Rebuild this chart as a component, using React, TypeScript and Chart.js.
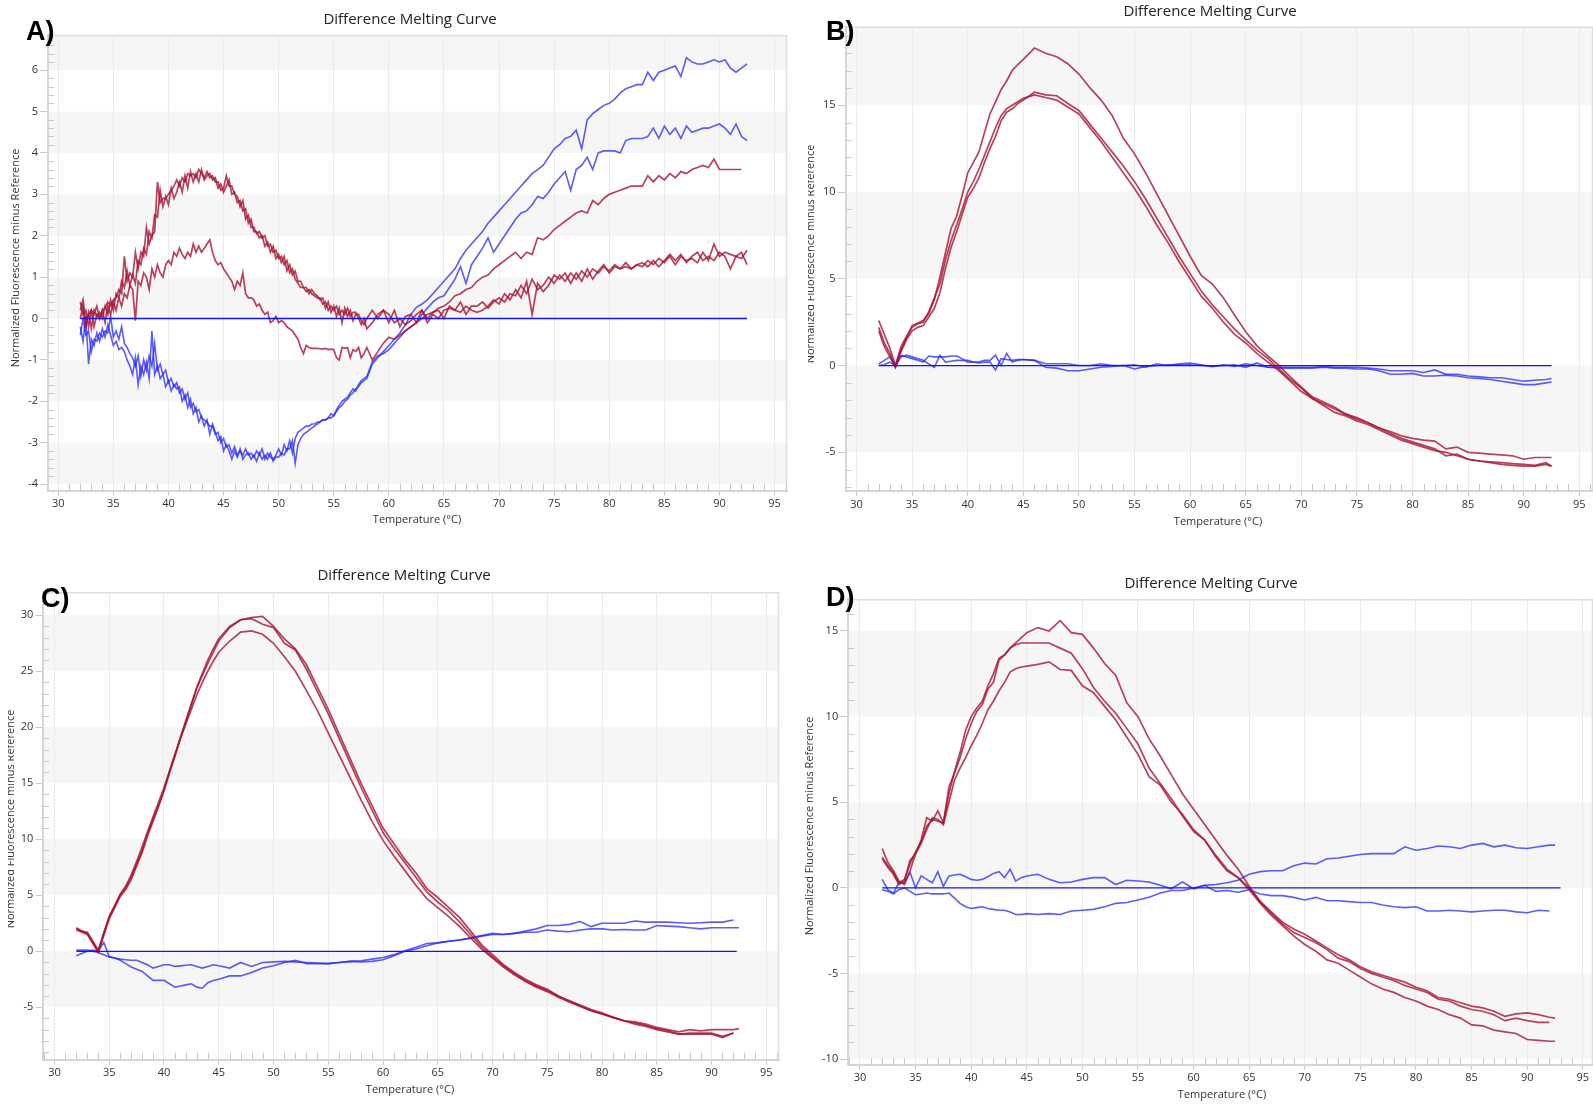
import React, { useEffect, useRef } from "react";
import { Chart, registerables } from "chart.js";
Chart.register(...registerables);

// ---------- tick labels ----------
const xTicks = [30, 35, 40, 45, 50, 55, 60, 65, 70, 75, 80, 85, 90, 95];
const yTicksA = [-4, -3, -2, -1, 0, 1, 2, 3, 4, 5, 6];
const yTicksB = [-5, 0, 5, 10, 15];
const yTicksC = [-5, 0, 5, 10, 15, 20, 25, 30];
const yTicksD = [-10, -5, 0, 5, 10, 15];

// ---------- panel A (temperature sampling + series) ----------
const tempsA = [
  32, 32.25, 32.5, 32.75, 33, 33.25, 33.5, 33.75, 34, 34.25, 34.5, 34.75,
  35, 35.25, 35.5, 35.75, 36, 36.25, 36.5, 36.75, 37, 37.25, 37.5, 37.75,
  38, 38.25, 38.5, 38.75, 39, 39.25, 39.5, 39.75, 40, 40.25, 40.5, 40.75,
  41, 41.25, 41.5, 41.75, 42, 42.25, 42.5, 42.75, 43, 43.25, 43.5, 43.75,
  44, 44.25, 44.5, 44.75, 45, 45.25, 45.5, 45.75, 46, 46.25, 46.5, 46.75,
  47, 47.25, 47.5, 47.75, 48, 48.25, 48.5, 48.75, 49, 49.25, 49.5, 49.75,
  50, 50.25, 50.5, 50.75, 51, 51.25, 51.5, 51.75, 52, 52.25, 52.5, 52.75,
  53, 53.25, 53.5, 53.75, 54, 54.25, 54.5, 54.75, 55, 55.25, 55.5, 55.75,
  56, 56.25, 56.5, 56.75, 57, 57.25, 57.5, 57.75,
  58, 58.5,
  59, 59.5, 60, 60.5, 61, 61.5, 62, 62.5, 63, 63.5,
  64, 64.5, 65, 65.5, 66, 66.5, 67, 67.5, 68, 68.5,
  69, 69.5, 70, 70.5, 71, 71.5, 72, 72.5, 73, 73.5,
  74, 74.5, 75, 75.5, 76, 76.5, 77, 77.5, 78, 78.5,
  79, 79.5, 80, 80.5, 81, 81.5, 82, 82.5, 83, 83.5,
  84, 84.5, 85, 85.5, 86, 86.5, 87, 87.5, 88, 88.5,
  89, 89.5, 90, 90.5, 91, 91.5, 92, 92.5,
];

const redA1 = [
  0.4, 0.1, 0.2, -0.2, 0.2, 0.1, 0.3, 0.0, 0.2, 0.25, 0.4, 0.3,
  0.45, 0.5, 0.7, 0.6, 1.5, 0.9, 1.1, 1.0, 1.6, 1.2, 1.6, 1.5,
  2.2, 1.8, 2.0, 2.1, 3.3, 2.8, 2.9, 2.9, 3.0, 3.1, 3.2, 3.35,
  3.2, 3.4, 3.3, 3.5, 3.45, 3.5, 3.4, 3.6, 3.5, 3.4, 3.55, 3.4,
  3.45, 3.3, 3.3, 3.1, 3.15, 3.45, 3.2, 3.2, 3.0, 2.95, 2.7, 2.85,
  2.4, 2.5, 2.2, 2.2, 2.05, 2.1, 1.95, 2.0, 1.75, 1.8, 1.6, 1.65,
  1.45, 1.5, 1.3, 1.4, 1.1, 1.2, 0.95, 0.85, 0.75, 0.75, 0.65, 0.7,
  0.6, 0.55, 0.5, 0.5, 0.35, 0.4, 0.2, 0.3, 0.2, 0.3, 0.1, 0.2,
  0.1, 0.25, 0.05, 0.15, 0.15, 0.0, -0.15, 0.0,
  -0.25, -0.1,
  0.1, 0.2, 0.1, -0.1, 0.0, -0.15, -0.05, 0.1, 0.2, -0.1,
  0.1, 0.0, 0.2, 0.25, 0.2, 0.4, 0.1, 0.3, 0.3, 0.4,
  0.25, 0.4, 0.5, 0.4, 0.6, 0.55, 0.8, 0.6, 0.95, 0.7,
  0.8, 1.0, 0.85, 1.05, 0.9, 1.1, 0.95, 1.15, 1.0, 1.2,
  1.1, 1.25, 1.15, 1.3, 1.2, 1.25, 1.2, 1.3, 1.25, 1.4,
  1.3, 1.45, 1.35, 1.5, 1.3, 1.5, 1.4, 1.45, 1.35, 1.6,
  1.4, 1.8, 1.5, 1.6, 1.55, 1.5, 1.6, 1.3,
];

const redA2 = [
  0.2, 0.45, -0.1, 0.15, -0.25, 0.2, 0.05, 0.15, 0.0, 0.3, 0.1, 0.45,
  0.2, 0.6, 0.5, 0.9, 0.75, 1.15, 0.8, 1.05, 0.85, 1.4, 1.3, 1.7,
  1.55, 2.1, 1.95, 2.5, 2.45, 3.1, 2.7, 2.95, 2.75, 3.15, 2.9, 3.05,
  3.3, 3.05, 3.45, 3.15, 3.55, 3.3, 3.5, 3.3, 3.6, 3.35, 3.45, 3.5,
  3.35, 3.4, 3.15, 3.25, 3.05, 3.2, 3.35, 3.0, 3.05, 2.8, 2.85, 2.6,
  2.65, 2.3, 2.4, 2.1, 2.1, 1.95, 2.0, 1.75, 1.85, 1.6, 1.75, 1.45,
  1.55, 1.35, 1.5, 1.15, 1.3, 1.05, 1.15, 0.9, 0.9, 0.75, 0.75, 0.6,
  0.7, 0.6, 0.55, 0.45, 0.5, 0.25, 0.4, 0.15, 0.3, 0.05, 0.25, -0.1,
  0.25, 0.05, 0.2, -0.05, 0.1, 0.1, -0.05, -0.15,
  0.0, 0.2,
  0.0, 0.2, -0.1, 0.2, -0.2, 0.05, 0.1, -0.1, 0.2, 0.0,
  0.15, 0.2, 0.0, 0.3, 0.2, 0.15, 0.3, 0.2, 0.15, 0.2,
  0.3, 0.45, 0.35, 0.6, 0.45, 0.7, 0.5, 0.9, 0.1, 0.85,
  0.65, 0.8, 1.05, 0.95, 1.1, 0.85, 1.1, 0.9, 1.2, 0.95,
  1.15, 1.3, 1.1, 1.25, 1.2, 1.35, 1.2, 1.3, 1.35, 1.25,
  1.4, 1.25, 1.4, 1.55, 1.4, 1.55, 1.35, 1.5, 1.6, 1.4,
  1.5, 1.4, 1.6, 1.5, 1.2, 1.5, 1.45, 1.65,
];

const redA3 = [
  0.0, 0.3, -0.2, 0.1, 0.2, -0.2, 0.1, 0.0, 0.2, -0.1, 0.3, 0.1,
  0.4, 0.2, 0.5, 0.3, 0.6, 0.5, 0.8, 0.7, -0.05, 0.9, 0.8, 1.1,
  1.0, 0.7, 1.2, 1.0, 1.3, 1.1, 1.0, 1.3, 1.4, 1.3, 1.6, 1.5,
  1.7, 1.55, 1.45, 1.6, 1.5, 1.8, 1.6, 1.75, 1.6, 1.7, 1.8, 1.9,
  1.6, 1.4, 1.3, 1.35, 1.2, 1.1, 1.0, 0.9, 0.7, 0.9, 0.8, 1.1,
  0.6, 0.5, 0.5, 0.45, 0.3, 0.35, 0.2, 0.1, 0.15, -0.1, -0.05, 0.05,
  -0.1, -0.05, -0.1, -0.2, -0.25, -0.3, -0.4, -0.5, -0.7, -0.85, -0.65, -0.7,
  -0.72, -0.72, -0.72, -0.73, -0.74, -0.72, -0.75, -0.74, -0.75, -0.95, -1.0, -0.7,
  -0.72, -0.7, -0.95, -0.75, -0.8, -0.7, -0.95, -0.85,
  -0.7, -1.0,
  -0.8, -0.6, -0.45, -0.5, -0.4, -0.3, -0.2, -0.1, 0.0, 0.1,
  0.15, 0.25, 0.3, 0.4, 0.55, 0.6, 0.7, 0.75, 0.9, 1.0,
  1.05, 1.2, 1.3, 1.4, 1.5, 1.6, 1.45, 1.6, 1.55, 1.95,
  1.9, 2.0, 2.15, 2.25, 2.35, 2.45, 2.55, 2.6, 2.55, 2.85,
  2.75, 2.9, 3.0, 3.05, 3.1, 3.15, 3.2, 3.2, 3.2, 3.45,
  3.3, 3.45, 3.35, 3.5, 3.4, 3.55, 3.5, 3.6, 3.65, 3.7,
  3.65, 3.85, 3.6, 3.6, 3.6, 3.6, 3.6, null,
];

const blueA1 = [
  -0.4, 0.0, -0.4, -0.3, -0.8, -0.5, -0.55, -0.35, -0.45, -0.3, -0.35, 0.05,
  -0.45, -0.3, -0.5, -0.2, -0.6, -0.7, -0.85, -0.95, -1.15, -0.9, -1.4, -1.0,
  -1.25, -0.9, -1.15, -0.6, -1.25, -1.1, -1.35, -1.25, -1.55, -1.45, -1.65, -1.55,
  -1.8, -1.7, -1.95, -1.8, -2.15, -2.05, -2.25, -2.2, -2.4, -2.45, -2.5, -2.6,
  -2.6, -2.8, -2.75, -3.0, -2.9, -3.1, -3.05, -3.25, -3.1, -3.3, -3.2, -3.3,
  -3.15, -3.3, -3.25, -3.35, -3.2, -3.3, -3.15, -3.4, -3.25, -3.35, -3.4, -3.3,
  -3.15, -3.3, -3.05, -3.2, -2.95, -3.25, -2.9, -2.75, -2.7, -2.65, -2.6, -2.6,
  -2.55, -2.55, -2.5, -2.5, -2.45, -2.45, -2.4, -2.4, -2.35, -2.25, -2.15, -2.1,
  -2.0, -1.95, -1.85, -1.8, -1.7, -1.65, -1.55, -1.5,
  -1.45, -1.1,
  -0.95, -0.8, -0.65, -0.5, -0.35, -0.15, 0.1, 0.27, 0.35, 0.45,
  0.6, 0.75, 0.9, 1.05, 1.2, 1.45, 1.65, 1.8, 1.95, 2.1,
  2.3, 2.45, 2.6, 2.75, 2.9, 3.05, 3.2, 3.35, 3.5, 3.6,
  3.7, 3.9, 4.1, 4.2, 4.35, 4.4, 4.55, 4.1, 4.8, 4.95,
  5.05, 5.15, 5.2, 5.3, 5.45, 5.55, 5.6, 5.65, 5.65, 5.95,
  5.75, 5.95, 6.0, 6.05, 6.1, 5.85, 6.3, 6.2, 6.15, 6.15,
  6.2, 6.25, 6.2, 6.25, 6.05, 5.95, 6.05, 6.15,
];

const blueA2 = [
  -0.2, -0.55, 0.05, -1.1, -0.5, -0.65, -0.35, -0.55, -0.25, -0.45, -0.15, -0.4,
  -0.65, -0.55, -0.75, -0.7, -0.8, -1.0, -1.15, -1.35, -0.95, -1.6, -1.15, -1.35,
  -1.05, -1.45, -0.3, -1.35, -1.15, -1.45, -1.35, -1.65, -1.5, -1.75, -1.6, -1.7,
  -1.65, -2.0, -1.85, -2.15, -1.95, -2.3, -2.15, -2.5, -2.35, -2.6, -2.45, -2.8,
  -2.55, -2.75, -2.95, -2.85, -3.2, -3.05, -3.2, -3.4, -3.2, -3.35, -3.15, -3.4,
  -3.3, -3.25, -3.4, -3.3, -3.45, -3.25, -3.4, -3.3, -3.4, -3.25, -3.45, -3.35,
  -3.35, -3.25, -3.3, -3.15, -3.15, -2.95, -3.5, -3.05, -2.9, -2.8, -2.75, -2.7,
  -2.65, -2.6, -2.55, -2.5, -2.45, -2.45, -2.4, -2.3, -2.35, -2.2, -2.1, -2.0,
  -1.95, -1.9, -1.8, -1.7, -1.75, -1.6, -1.5, -1.45,
  -1.4, -1.05,
  -0.9, -0.85, -0.75, -0.6, -0.45, -0.3, -0.2, -0.1, 0.1, 0.25,
  0.4, 0.5, 0.55, 0.75, 0.95, 1.25, 0.85, 1.3, 1.5, 1.7,
  1.95, 1.6, 1.8, 2.0, 2.2, 2.4, 2.55, 2.6, 2.75, 2.95,
  2.9, 3.05, 3.25, 3.4, 3.55, 3.1, 3.6, 3.7, 3.9, 3.6,
  4.0, 4.05, 4.05, 4.05, 4.0, 4.3, 4.35, 4.35, 4.35, 4.4,
  4.6, 4.35, 4.65, 4.45, 4.6, 4.35, 4.65, 4.5, 4.55, 4.6,
  4.6, 4.65, 4.7, 4.6, 4.45, 4.7, 4.4, 4.3,
];

const zeroAx = [32, 92.5];
const zeroBx = [32, 92.5];
const zeroCx = [32, 92.3];
const zeroDx = [32, 93];
const zeroY = [0, 0];

// ---------- panels B, C, D share this temperature sampling ----------
const tempsFine = [
  32, 32.5, 33, 33.5, 34, 34.5, 35, 35.5, 36, 36.5,
  37, 37.5, 38, 38.5, 39, 39.5, 40, 40.5, 41, 41.5,
  42, 42.5, 43, 43.5, 44, 44.5, 45,
  46, 47, 48, 49, 50, 51, 52, 53, 54, 55,
  56, 57, 58, 59, 60, 61, 62, 63, 64, 65,
  66, 67, 68, 69, 70, 71, 72, 73, 74, 75,
  76, 77, 78, 79, 80, 81, 82, 83, 84, 85,
  86, 87, 88, 89, 90, 91, 92,
  92.5,
];

const redB1 = [
  2.6, 1.8, 1.0, 0.0, 0.9, 1.6, 2.3, 2.45, 2.6, 3.0,
  3.8, 5.1, 6.5, 7.9, 8.6, 9.8, 11.1, 11.7, 12.3, 13.4,
  14.5, 15.2, 15.9, 16.4, 17.0, 17.35, 17.65,
  18.3, 18.0, 17.8, 17.4, 16.8, 16.0, 15.3, 14.4, 13.1, 12.2,
  11.1, 9.9, 8.7, 7.5, 6.3, 5.2, 4.7, 3.9, 2.9, 1.95,
  1.15, 0.55, 0.0, -0.65, -1.25, -1.8, -2.1, -2.4, -2.8, -3.0,
  -3.3, -3.6, -3.8, -4.05, -4.2, -4.3, -4.35, -4.8, -4.7, -5.0,
  -5.05, -5.1, -5.15, -5.2, -5.4, -5.3, -5.3,
  -5.3,
];
const redB2 = [
  2.2, 1.3, 0.7, -0.1, 0.8, 1.5, 2.0, 2.2, 2.3, 2.8,
  3.3, 4.2, 5.6, 6.8, 7.7, 8.7, 9.7, 10.2, 10.8, 11.7,
  12.5, 13.2, 14.1, 14.6, 14.8, 15.1, 15.3,
  15.75, 15.6, 15.55, 15.1, 14.7, 13.9, 13.1, 12.3, 11.5, 10.6,
  9.6, 8.5, 7.4, 6.3, 5.3, 4.3, 3.5, 2.8, 2.1, 1.5,
  0.9, 0.4, -0.2, -0.8, -1.3, -1.9, -2.2, -2.5, -2.8, -3.1,
  -3.3, -3.6, -3.9, -4.2, -4.4, -4.6, -4.8, -5.2, -5.1, -5.4,
  -5.5, -5.55, -5.6, -5.65, -5.7, -5.75, -5.6,
  -5.8,
];
const redB3 = [
  2.0, 1.1, 0.5, 0.0, 1.1, 1.7, 2.2, 2.4, 2.5, 3.1,
  3.9, 4.7, 6.1, 7.2, 8.1, 9.0, 10.0, 10.6, 11.3, 12.1,
  12.9, 13.7, 14.4, 14.8, 15.0, 15.2, 15.4,
  15.6, 15.45, 15.3, 14.9, 14.5, 13.7, 12.9, 12.0, 11.1, 10.2,
  9.2, 8.1, 7.1, 6.0, 5.0, 4.0, 3.3, 2.5, 1.8, 1.3,
  0.7, 0.2, -0.3, -0.9, -1.5, -1.9, -2.3, -2.7, -2.9, -3.2,
  -3.4, -3.7, -4.0, -4.3, -4.5, -4.7, -4.9, -5.0, -5.2, -5.4,
  -5.5, -5.6, -5.7, -5.75, -5.8, -5.8, -5.7,
  -5.8,
];
const blueB1 = [
  0.1, 0.3, 0.5, -0.1, 0.6, 0.5, 0.4, 0.3, 0.2, 0.55,
  0.5, 0.5, 0.5, 0.55, 0.55, 0.4, 0.2, 0.2, 0.2, 0.3,
  0.3, 0.6, 0.0, 0.7, 0.2, 0.3, 0.35,
  0.3, 0.1, 0.1, 0.1, 0.0, 0.0, 0.1, 0.0, 0.0, 0.05,
  -0.1, 0.1, 0.0, 0.1, 0.15, 0.05, -0.05, 0.0, 0.05, -0.1,
  0.15, -0.1, -0.1, -0.1, -0.1, -0.1, -0.05, -0.1, -0.1, -0.1,
  -0.15, -0.2, -0.3, -0.3, -0.3, -0.4, -0.25, -0.5, -0.5, -0.6,
  -0.65, -0.7, -0.7, -0.8, -0.9, -0.85, -0.8,
  -0.75,
];
const blueB2 = [
  0.0, 0.05, 0.2, 0.0, 0.5, 0.6, 0.5, 0.4, 0.3, 0.1,
  -0.1, 0.6, 0.2, 0.25, 0.3, 0.3, 0.3, 0.2, 0.15, 0.2,
  0.2, -0.25, 0.4, 0.35, 0.3, 0.35, 0.35,
  0.3, -0.1, -0.15, -0.3, -0.3, -0.2, -0.1, -0.05, 0.0, -0.2,
  -0.05, 0.0, 0.05, 0.05, 0.05, 0.0, -0.05, 0.05, -0.05, 0.1,
  0.0, -0.1, -0.15, -0.15, -0.15, -0.15, -0.1, -0.15, -0.15, -0.2,
  -0.2, -0.3, -0.5, -0.5, -0.45, -0.6, -0.6, -0.55, -0.6, -0.7,
  -0.75, -0.8, -0.9, -1.0, -1.1, -1.1, -1.0,
  -0.95,
];

const redC1 = [
  2.0, 1.8, 1.6, 0.8, 0.0, 1.6, 3.1, 4.0, 5.0, 5.7,
  6.6, 7.8, 9.0, 10.5, 11.8, 13.0, 14.4, 16.0, 17.4, 19.0,
  20.5, 22.0, 23.5, 24.6, 25.7, 26.7, 27.7,
  28.9, 29.6, 29.8, 29.9, 29.0, 27.9, 27.0, 25.6, 23.6, 21.6,
  19.4, 17.2, 15.0, 13.0, 11.0, 9.6, 8.2, 7.0, 5.6, 4.8,
  3.9, 3.0, 1.8, 0.6, -0.3, -1.2, -1.9, -2.5, -3.0, -3.4,
  -4.0, -4.4, -4.8, -5.2, -5.5, -5.9, -6.2, -6.3, -6.5, -6.8,
  -7.0, -7.2, -7.0, -7.1, -7.0, -7.0, -7.0,
  -6.9,
];
const redC2 = [
  1.9, 1.7, 1.5, 0.7, -0.1, 1.4, 2.9, 3.9, 4.9, 5.5,
  6.4, 7.6, 8.8, 10.3, 11.6, 12.9, 14.3, 15.9, 17.5, 19.1,
  20.6, 22.1, 23.6, 24.8, 26.0, 27.0, 27.9,
  29.0, 29.6, 29.7, 29.2, 28.9, 27.5, 26.9, 25.2, 23.2, 21.2,
  19.0, 16.8, 14.6, 12.6, 10.6, 9.2, 7.9, 6.6, 5.3, 4.4,
  3.6, 2.6, 1.5, 0.4, -0.5, -1.3, -2.0, -2.6, -3.1, -3.5,
  -4.0, -4.5, -4.9, -5.3, -5.6, -5.9, -6.2, -6.4, -6.6, -6.9,
  -7.1, -7.4, -7.4, -7.4, -7.4, -7.7, -7.3,
  null,
];
const redC3 = [
  2.1, 1.8, 1.7, 0.9, 0.1, 1.6, 3.1, 4.1, 5.1, 5.8,
  6.8, 8.0, 9.3, 10.7, 12.0, 13.3, 14.6, 16.1, 17.6, 19.0,
  20.3, 21.6, 22.9, 24.0, 25.0, 25.9, 26.7,
  27.7, 28.5, 28.6, 28.3, 27.5, 26.3, 25.0, 23.3, 21.5, 19.5,
  17.5, 15.5, 13.5, 11.6, 9.9, 8.5, 7.2, 5.9, 4.7, 3.9,
  3.1, 2.2, 1.2, 0.2, -0.6, -1.4, -2.1, -2.7, -3.2, -3.6,
  -4.1, -4.5, -4.9, -5.3, -5.6, -5.9, -6.2, -6.5, -6.7, -7.0,
  -7.2, -7.4, -7.3, -7.3, -7.3, -7.6, -7.3,
  null,
];
const blueC1 = [
  -0.4, -0.2, 0.0, 0.1, 0.0, 0.8, -0.5, -0.6, -0.8, -1.1,
  -1.4, -1.6, -1.8, -2.2, -2.6, -2.6, -2.6, -2.9, -3.2, -3.1,
  -3.0, -2.9, -3.2, -3.3, -2.8, -2.6, -2.5,
  -2.2, -2.2, -1.9, -1.5, -1.3, -1.0, -0.8, -1.1, -1.1, -1.1,
  -1.0, -0.9, -0.95, -0.9, -0.75, -0.4, 0.0, 0.2, 0.5, 0.75,
  0.9, 1.0, 1.15, 1.35, 1.5, 1.5, 1.6, 1.7, 1.7, 1.9,
  1.8, 1.75, 1.9, 2.0, 2.0, 1.9, 1.95, 1.9, 1.9, 2.3,
  2.25, 2.2, 2.1, 2.0, 2.1, 2.1, 2.1,
  2.1,
];
const blueC2 = [
  0.1, 0.1, 0.1, 0.0, -0.1, -0.3, -0.5, -0.6, -0.7, -0.75,
  -0.8, -0.8, -1.0, -1.2, -1.5, -1.35, -1.2, -1.2, -1.35, -1.3,
  -1.25, -1.2, -1.35, -1.5, -1.35, -1.2, -1.3,
  -1.5, -1.0, -1.35, -1.0, -0.95, -0.9, -0.95, -1.0, -1.05, -1.1,
  -1.0, -0.9, -0.85, -0.7, -0.55, -0.3, 0.05, 0.35, 0.7, 0.75,
  0.9, 1.0, 1.2, 1.4, 1.6, 1.5, 1.6, 1.8, 2.0, 2.3,
  2.3, 2.4, 2.65, 2.2, 2.5, 2.5, 2.5, 2.7, 2.6, 2.6,
  2.6, 2.55, 2.5, 2.55, 2.6, 2.6, 2.8,
  null,
];

const redD1 = [
  2.3, 1.5, 1.0, 0.4, 0.2, 1.0, 2.0, 2.8, 4.1, 3.9,
  4.5, 3.8, 5.5, 6.8, 7.9, 9.2, 10.0, 10.5, 10.9, 11.8,
  12.5, 13.4, 13.6, 14.0, 14.3, 14.6, 14.9,
  15.2, 15.0, 15.6, 14.9, 14.8, 14.0, 13.1, 12.4, 10.8, 10.0,
  8.7, 7.7, 6.6, 5.5, 4.6, 3.7, 2.8, 1.9, 1.1, 0.1,
  -0.8, -1.4, -2.0, -2.4, -2.7, -3.1, -3.5, -3.9, -4.2, -4.6,
  -4.9, -5.1, -5.3, -5.5, -5.8, -6.0, -6.4, -6.5, -6.7, -6.9,
  -7.0, -7.2, -7.5, -7.35, -7.3, -7.4, -7.55,
  -7.6,
];
const redD2 = [
  1.8, 1.3, 0.9, 0.3, 0.5, 1.4, 2.1, 2.7, 3.6, 4.0,
  3.9, 3.8, 5.9, 6.7, 7.6, 8.7, 9.6, 10.3, 10.7, 11.6,
  12.0, 13.3, 13.6, 14.0, 14.2, 14.3, 14.3,
  14.3, 14.3, 14.0, 13.7, 12.8, 11.7, 10.9, 10.2, 9.3, 8.4,
  7.0, 6.1, 5.2, 4.2, 3.3, 2.8, 1.8, 1.0, 0.6, 0.0,
  -0.8, -1.5, -2.1, -2.6, -2.9, -3.2, -3.6, -4.1, -4.3, -4.7,
  -5.0, -5.2, -5.4, -5.7, -5.9, -6.1, -6.5, -6.6, -6.9, -7.1,
  -7.2, -7.4, -7.75, -7.6, -7.75, -7.85, -7.85,
  null,
];
const redD3 = [
  1.7, 1.2, 0.8, 0.2, 0.4, 1.6, 2.0, 2.6, 3.4, 4.1,
  4.0, 3.7, 5.0, 6.3, 7.0, 7.6, 8.3, 8.9, 9.6, 10.4,
  10.9, 11.5, 12.0, 12.6, 12.8, 12.9, 12.95,
  13.05, 13.2, 12.75, 12.7, 11.8, 11.4, 10.6, 9.8, 8.8, 7.8,
  6.5, 6.0, 5.0, 4.3, 3.4, 2.8, 1.9, 1.1, 0.6, -0.1,
  -0.9, -1.6, -2.2, -2.8, -3.3, -3.7, -4.2, -4.4, -4.8, -5.2,
  -5.6, -5.9, -6.1, -6.4, -6.6, -6.9, -7.1, -7.4, -7.6, -8.0,
  -8.05, -8.3, -8.4, -8.5, -8.85, -8.9, -8.95,
  -8.95,
];
const blueD1 = [
  0.5, -0.1, -0.3, 0.3, 0.3, 0.9, 0.0, 0.7, 0.5, 0.3,
  0.95, 0.1, 0.7, 0.75, 0.8, 0.65, 0.5, 0.45, 0.5, 0.65,
  0.85, 0.95, 0.6, 1.1, 0.4, 0.6, 0.7,
  0.8, 0.5, 0.3, 0.35, 0.5, 0.6, 0.6, 0.2, 0.45, 0.4,
  0.35, 0.15, -0.05, 0.35, -0.05, 0.15, -0.2, -0.15, -0.25, -0.1,
  -0.35, -0.45, -0.45, -0.55, -0.7, -0.55, -0.75, -0.75, -0.8, -0.85,
  -0.85, -1.0, -1.1, -1.15, -1.1, -1.35, -1.35, -1.3, -1.35, -1.4,
  -1.35, -1.3, -1.3, -1.4, -1.45, -1.3, -1.35,
  null,
];
const blueD2 = [
  -0.1, -0.2, -0.35, -0.1, 0.0, -0.2, -0.4, -0.35, -0.3, -0.35,
  -0.35, -0.35, -0.3, -0.6, -0.9, -1.1, -1.2, -1.15, -1.1, -1.2,
  -1.25, -1.3, -1.3, -1.4, -1.55, -1.55, -1.5,
  -1.55, -1.5, -1.55, -1.35, -1.3, -1.25, -1.1, -0.9, -0.85, -0.7,
  -0.55, -0.3, -0.15, -0.15, 0.0, 0.15, 0.2, 0.3, 0.45, 0.8,
  0.95, 1.0, 1.0, 1.3, 1.45, 1.4, 1.7, 1.75, 1.85, 1.95,
  2.0, 2.0, 2.0, 2.4, 2.2, 2.3, 2.45, 2.4, 2.3, 2.5,
  2.6, 2.4, 2.5, 2.35, 2.3, 2.4, 2.5,
  2.5,
];

// ---------- text ----------
const TITLE = "Difference Melting Curve";
const X_TITLE = "Temperature (°C)";
const Y_TITLE = "Normalized Fluorescence minus Reference";

// ---------- panel specs ----------
type Spec = {
  key: string;
  tag: string;
  canvas: { left: number; top: number; width: number; height: number };
  area: { l: number; t: number; r: number; b: number };
  yAxisW: number;
  xMin: number; xMax: number; yMin: number; yMax: number;
  yStep: number; yTicks: number[]; parity: number;
  temps: number[]; reds: (number | null)[][]; blues: (number | null)[][];
  zeroX: number[];
  titlePos: [number, number]; yTitlePos: [number, number]; xTitlePos: [number, number]; tagPos: [number, number];
};

const X_AXIS_H = 30;

const specs: Spec[] = [
  {
    key: "A", tag: "A)",
    canvas: { left: 0, top: 0, width: 796, height: 548 },
    area: { l: 48, t: 35, r: 787, b: 490.7 }, yAxisW: 40,
    xMin: 29.07, xMax: 96.13, yMin: -4.16, yMax: 6.85, yStep: 1, yTicks: yTicksA, parity: 0,
    temps: tempsA, reds: [redA1, redA2, redA3], blues: [blueA1, blueA2], zeroX: zeroAx,
    titlePos: [410, 19.5], yTitlePos: [15.4, 258], xTitlePos: [417, 520], tagPos: [26, 40],
  },
  {
    key: "B", tag: "B)",
    canvas: { left: 808, top: 0, width: 785, height: 548 },
    area: { l: 845.5, t: 26.7, r: 1593, b: 491 }, yAxisW: 35,
    xMin: 29.01, xMax: 96.23, yMin: -7.23, yMax: 19.53, yStep: 5, yTicks: yTicksB, parity: 1,
    temps: tempsFine, reds: [redB1, redB2, redB3], blues: [blueB1, blueB2], zeroX: zeroBx,
    titlePos: [1210, 11.5], yTitlePos: [810.5, 254], xTitlePos: [1218, 522], tagPos: [826, 40],
  },
  {
    key: "C", tag: "C)",
    canvas: { left: 8, top: 548, width: 788, height: 557 },
    area: { l: 43.3, t: 592.3, r: 779, b: 1059.7 }, yAxisW: 33,
    xMin: 28.98, xMax: 96.16, yMin: -9.68, yMax: 32.05, yStep: 5, yTicks: yTicksC, parity: 1,
    temps: tempsFine, reds: [redC1, redC2, redC3], blues: [blueC1, blueC2], zeroX: zeroCx,
    titlePos: [404, 576], yTitlePos: [10.5, 819], xTitlePos: [410, 1090], tagPos: [41, 607],
  },
  {
    key: "D", tag: "D)",
    canvas: { left: 796, top: 548, width: 797, height: 557 },
    area: { l: 848.2, t: 599.3, r: 1593, b: 1064.7 }, yAxisW: 40,
    xMin: 28.94, xMax: 95.92, yMin: -10.32, yMax: 16.85, yStep: 5, yTicks: yTicksD, parity: 0,
    temps: tempsFine, reds: [redD1, redD2, redD3], blues: [blueD1, blueD2], zeroX: zeroDx,
    titlePos: [1211, 584], yTitlePos: [810, 826], xTitlePos: [1222, 1095], tagPos: [826, 606],
  },
];

const pts = (xs: number[], ys: (number | null)[]) =>
  xs
    .map((x, i) => ({ x, y: ys[i] }))
    .filter((p) => p.y !== null && p.y !== undefined) as { x: number; y: number }[];

const RED = "rgba(168,18,50,0.80)";
const BLUE = "rgba(38,38,250,0.75)";
const ZERO = "#1212ff";
const FONT = '"Open Sans", "DejaVu Sans", sans-serif';

function decor(spec: Spec) {
  return {
    id: "decor" + spec.key,
    beforeDraw(chart: any) {
      const { ctx, chartArea: a, scales } = chart;
      const y = scales.y;
      ctx.save();
      ctx.fillStyle = "#f6f6f6";
      const k0 = Math.floor(spec.yMin / spec.yStep);
      const k1 = Math.ceil(spec.yMax / spec.yStep);
      for (let k = k0; k < k1; k++) {
        if (((k % 2) + 2) % 2 !== spec.parity) continue;
        const lo = Math.max(k * spec.yStep, spec.yMin);
        const hi = Math.min((k + 1) * spec.yStep, spec.yMax);
        const p1 = y.getPixelForValue(hi);
        const p2 = y.getPixelForValue(lo);
        ctx.fillRect(a.left, p1, a.right - a.left, p2 - p1);
      }
      ctx.strokeStyle = "#dedede";
      ctx.lineWidth = 1.5;
      ctx.beginPath();
      ctx.moveTo(a.left, a.top + 0.5);
      ctx.lineTo(a.right - 0.5, a.top + 0.5);
      ctx.lineTo(a.right - 0.5, a.bottom);
      ctx.stroke();
      ctx.restore();
    },
    beforeDatasetsDraw(chart: any) {
      const { ctx, chartArea: a, scales } = chart;
      ctx.save();
      ctx.strokeStyle = "#c9c9c9";
      ctx.lineWidth = 1;
      ctx.beginPath();
      for (let t = Math.ceil(spec.xMin); t <= Math.floor(spec.xMax); t++) {
        if (t % 5 === 0) continue;
        const px = Math.round(scales.x.getPixelForValue(t)) + 0.5;
        ctx.moveTo(px, a.bottom);
        ctx.lineTo(px, a.bottom - 7);
      }
      const m = spec.yStep / 5;
      for (let k = Math.ceil(spec.yMin / m); k <= Math.floor(spec.yMax / m); k++) {
        if (k % 5 === 0) continue;
        const py = Math.round(scales.y.getPixelForValue(k * m)) + 0.5;
        ctx.moveTo(a.left, py);
        ctx.lineTo(a.left + 6, py);
      }
      ctx.stroke();
      ctx.restore();
    },
    afterDraw(chart: any) {
      const { ctx } = chart;
      const ox = spec.canvas.left;
      const oy = spec.canvas.top;
      ctx.save();
      ctx.fillStyle = "#222";
      ctx.textAlign = "center";
      ctx.textBaseline = "middle";
      ctx.font = `15px ${FONT}`;
      ctx.fillText(TITLE, spec.titlePos[0] - ox, spec.titlePos[1] - oy);
      ctx.font = `11px ${FONT}`;
      ctx.fillStyle = "#333";
      ctx.fillText(X_TITLE, spec.xTitlePos[0] - ox, spec.xTitlePos[1] - oy);
      ctx.save();
      ctx.translate(spec.yTitlePos[0] - ox, spec.yTitlePos[1] - oy);
      ctx.rotate(-Math.PI / 2);
      ctx.fillText(Y_TITLE, 0, 0);
      ctx.restore();
      ctx.fillStyle = "#000";
      ctx.textAlign = "left";
      ctx.textBaseline = "alphabetic";
      ctx.font = 'bold 27px "Liberation Sans", Arial, sans-serif';
      ctx.fillText(spec.tag, spec.tagPos[0] - ox, spec.tagPos[1] - oy);
      ctx.restore();
    },
  };
}

function makeConfig(spec: Spec): any {
  const c = spec.canvas;
  const a = spec.area;
  const datasets: any[] = [
    { data: pts(spec.zeroX, zeroY), borderColor: ZERO, borderWidth: 1.3 },
    ...spec.reds.map((r) => ({ data: pts(spec.temps, r), borderColor: RED, borderWidth: 1.7 })),
    ...spec.blues.map((b) => ({ data: pts(spec.temps, b), borderColor: BLUE, borderWidth: 1.6 })),
  ].map((d) => ({ ...d, pointRadius: 0, tension: 0, fill: false, spanGaps: false }));
  return {
    type: "line",
    data: { datasets },
    options: {
      animation: false,
      responsive: false,
      maintainAspectRatio: false,
      events: [],
      layout: {
        padding: {
          left: a.l - c.left - spec.yAxisW,
          top: a.t - c.top,
          right: c.left + c.width - a.r,
          bottom: c.top + c.height - a.b - X_AXIS_H,
        },
      },
      plugins: { legend: { display: false }, tooltip: { enabled: false }, title: { display: false } },
      scales: {
        x: {
          type: "linear",
          min: spec.xMin,
          max: spec.xMax,
          afterFit: (s: any) => { s.height = X_AXIS_H; },
          afterBuildTicks: (s: any) => { s.ticks = xTicks.map((v) => ({ value: v })); },
          grid: { color: "#ebebeb", lineWidth: 1, drawTicks: true, tickLength: 5, tickColor: "#c9c9c9", tickWidth: 1 },
          border: { display: true, color: "#d6d6d6", width: 2 },
          ticks: { color: "#333", font: { family: FONT, size: 11 }, padding: 2, maxRotation: 0, autoSkip: false, callback: (v: any) => String(v) },
        },
        y: {
          type: "linear",
          min: spec.yMin,
          max: spec.yMax,
          afterFit: (s: any) => { s.width = spec.yAxisW; },
          afterBuildTicks: (s: any) => { s.ticks = spec.yTicks.map((v) => ({ value: v })); },
          grid: { color: "rgba(0,0,0,0)", drawTicks: true, tickLength: 8, tickColor: "#c9c9c9", tickWidth: 1 },
          border: { display: true, color: "#d6d6d6", width: 2 },
          ticks: { color: "#333", font: { family: FONT, size: 11 }, padding: 2, autoSkip: false, callback: (v: any) => String(v) },
        },
      },
    },
    plugins: [decor(spec)],
  };
}

function Panel({ spec }: { spec: Spec }) {
  const ref = useRef<HTMLCanvasElement>(null);
  useEffect(() => {
    const cv = ref.current;
    if (!cv) return;
    const chart = new Chart(cv, makeConfig(spec));
    return () => chart.destroy();
  }, [spec]);
  const c = spec.canvas;
  return (
    <canvas
      ref={ref}
      width={c.width}
      height={c.height}
      style={{ position: "absolute", left: c.left, top: c.top, width: c.width, height: c.height }}
    />
  );
}

export default function App() {
  return (
    <div style={{ position: "absolute", left: 0, top: 0, width: 1593, height: 1105, background: "#fff", overflow: "hidden" }}>
      {specs.map((s) => (
        <Panel key={s.key} spec={s} />
      ))}
    </div>
  );
}
